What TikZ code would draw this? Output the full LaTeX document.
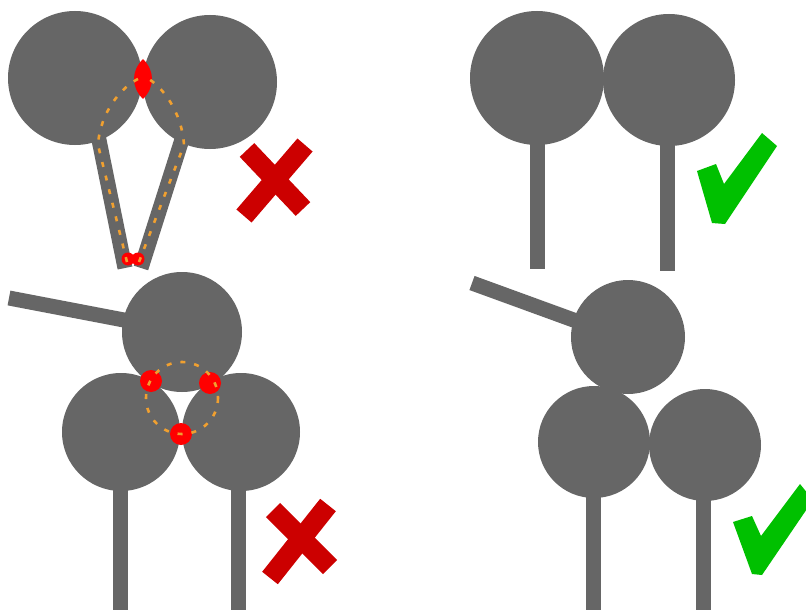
\documentclass[tikz,border=0pt]{standalone}
\definecolor{ballgray}{HTML}{666666}
\definecolor{crossred}{HTML}{CC0000}
\definecolor{hotred}{HTML}{FF0000}
\definecolor{checkgreen}{HTML}{00C000}
\definecolor{trail}{HTML}{F0A030}
\begin{document}
\begin{tikzpicture}[x=1pt,y=-1pt,
  ball/.style={fill=ballgray},
  rod/.style={draw=ballgray,line width=15pt,line cap=butt},
  hot/.style={fill=hotred},
  trailpath/.style={draw=trail,line width=2.6pt,dash pattern=on 5pt off 9pt},
  bad/.style={draw=crossred,line width=20pt,line cap=butt},
  good/.style={fill=checkgreen}]
\useasboundingbox (0,0) rectangle (806,610);
\fill[white] (0,0) rectangle (806,610);
\begin{scope}
\clip (0,0) rectangle (806,610);
% ---- top left (bad)
\draw[rod] (97,130) -- (125,268);
\draw[rod] (185,130) -- (141,268);
\fill[ball] (75,78) circle (67);
\fill[ball] (210,82) circle (67);
\fill[hot] (143,59) .. controls (131,71) and (131,87) .. (143,99) .. controls (155,87) and (155,71) .. (143,59) -- cycle;
\fill[hot] (128,259) circle (6.5);
\fill[hot] (138,259) circle (6.5);
\draw[trailpath] (127,262) -- (98,145) .. controls (100,112) and (122,86) .. (140,78);
\draw[trailpath] (139,262) -- (184,145) .. controls (182,112) and (162,86) .. (147,78);
\draw[bad] (247,150) -- (303,209);
\draw[bad] (305,145) -- (244,216);
% ---- top right (good)
\draw[rod] (537,130) -- (537,269);
\draw[rod] (667,130) -- (667,271);
\fill[ball] (537,78) circle (67);
\fill[ball] (669,80) circle (66);
\fill[good] (697,171) -- (716,164) -- (724,184) -- (762,133) -- (777,146) -- (725,224) -- (712,223) -- cycle;
% ---- bottom left (bad)
\draw[rod] (9,298) -- (150,325);
\draw[rod] (120,470) -- (120,612);
\draw[rod] (238,470) -- (238,612);
\fill[ball] (182,332) circle (60);
\fill[ball] (121,432) circle (59);
\fill[ball] (241,432) circle (59);
\fill[hot] (151,381) circle (11);
\fill[hot] (210,383) circle (11);
\fill[hot] (181,434) circle (11);
\draw[trailpath] (182,398) circle (36);
\draw[bad] (273,510) -- (330,567);
\draw[bad] (328,505) -- (270,578);
% ---- bottom right (good)
\draw[rod] (472,283) -- (590,326);
\draw[rod] (593,470) -- (593,612);
\draw[rod] (703,470) -- (703,612);
\fill[ball] (628,337) circle (57);
\fill[ball] (594,442) circle (56);
\fill[ball] (705,445) circle (56);
\fill[good] (733,522) -- (752,516) -- (761,536) -- (800,484) -- (813,500) -- (762,575) -- (752,574) -- cycle;
\end{scope}
\end{tikzpicture}
\end{document}
